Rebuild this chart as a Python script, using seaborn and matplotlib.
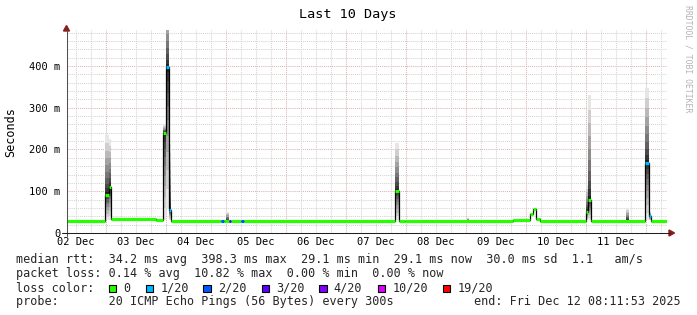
import matplotlib
matplotlib.use("Agg")
import numpy as np
import pandas as pd
import matplotlib.pyplot as plt
import matplotlib.dates as mdates
from matplotlib.patches import Rectangle, Polygon
from matplotlib.lines import Line2D
import seaborn as sns

sns.set_theme(style="white")
plt.rcParams['font.family'] = ['DejaVu Sans Mono', 'DejaVu Sans']

# ---------------- data ----------------
title = "Last 10 Days"
y_axis_label = "Seconds"
watermark = "RRDTOOL / TOBI OETIKER"
graph_start = "2025-12-02 08:11:53"
graph_end = "2025-12-12 08:11:53"

# median rtt, piecewise constant: segment start, median (ms), loss class index
seg_start = [
    "2025-12-02 08:12", "2025-12-02 22:00", "2025-12-02 23:36", "2025-12-03 01:00", "2025-12-03 01:53",
    "2025-12-03 19:48", "2025-12-03 22:55", "2025-12-04 00:00", "2025-12-04 01:00", "2025-12-04 02:00",
    "2025-12-04 22:00", "2025-12-04 23:00", "2025-12-05 01:00", "2025-12-05 02:00", "2025-12-05 06:00",
    "2025-12-05 07:00", "2025-12-07 19:43", "2025-12-07 21:05", "2025-12-07 23:36", "2025-12-09 18:48",
    "2025-12-10 01:36", "2025-12-10 02:55", "2025-12-10 03:53", "2025-12-10 05:24", "2025-12-10 23:53",
    "2025-12-11 00:55", "2025-12-11 02:00", "2025-12-11 23:43", "2025-12-12 01:12", "2025-12-12 02:00",
]
seg_median_ms = [29.6, 29.2, 92, 111, 34.5,
                 30.2, 240, 398.3, 55, 29.4,
                 29.4, 29.4, 29.2, 29.2, 29.2,
                 29.4, 101, 29.0, 29.5, 31.5,
                 45, 57, 33, 29.4, 50,
                 79, 29.4, 168, 40, 29.4]
seg_loss = [0, 0, 0, 0, 0, 0, 0, 1, 1, 0,
            2, 0, 3, 0, 2, 0, 0, 0, 0, 0,
            0, 0, 0, 0, 0, 0, 0, 1, 1, 0]

# smoke (spread of the 20 pings): column start, end, lowest, highest (ms)
smoke_start = ["2025-12-02 23:36", "2025-12-03 01:00", "2025-12-03 22:55", "2025-12-04 00:00",
               "2025-12-04 01:00", "2025-12-05 00:00", "2025-12-07 19:43", "2025-12-09 00:17",
               "2025-12-10 23:53", "2025-12-11 00:55", "2025-12-11 15:48", "2025-12-11 23:43",
               "2025-12-12 01:12"]
smoke_end = ["2025-12-03 01:00", "2025-12-03 01:53", "2025-12-04 00:00", "2025-12-04 01:00",
             "2025-12-04 02:00", "2025-12-05 01:00", "2025-12-07 21:05", "2025-12-09 01:19",
             "2025-12-11 00:55", "2025-12-11 02:00", "2025-12-11 17:00", "2025-12-12 01:12",
             "2025-12-12 02:00"]
smoke_lo_ms = [30, 30, 30, 60, 30, 29, 30, 29, 30, 30, 29, 30, 30]
smoke_hi_ms = [235, 225, 260, 560, 213, 50, 216, 36, 115, 330, 59, 348, 51]

ytick_values = [0, 100, 200, 300, 400]
ytick_labels = ["0", "100 m", "200 m", "300 m", "400 m"]

loss_labels = ["0", "1/20", "2/20", "3/20", "4/20", "10/20", "19/20"]
loss_colors = ["#26ff00", "#00b8ff", "#0059ff", "#5e00ff", "#7e00ff", "#dd00ff", "#ff0000"]

stats_rtt = "median rtt:  34.2 ms avg  398.3 ms max  29.1 ms min  29.1 ms now  30.0 ms sd  1.1   am/s"
stats_loss = "packet loss: 0.14 % avg  10.82 % max  0.00 % min  0.00 % now"
loss_title = "loss color:"
probe_text = "probe:       20 ICMP Echo Pings (56 Bytes) every 300s"
end_text = "end: Fri Dec 12 08:11:53 2025"

# ---------------- figure ----------------
W, H = 697, 315
def fx(x): return x / W
def fy(y): return 1 - y / H

fig = plt.figure(figsize=(W / 100, H / 100), dpi=100, facecolor='white')
X0, X1, Y0, Y1 = 66.5, 666.5, 233, 30
ax = fig.add_axes([fx(X0), fy(Y0), (X1 - X0) / W, (Y0 - Y1) / H])
ax.set_facecolor('white')
for s in ax.spines.values():
    s.set_visible(False)

def dn(strings):
    return mdates.date2num(pd.to_datetime(strings).to_pydatetime())

t0 = dn([graph_start])[0]
t1 = dn([graph_end])[0]
ymax = 486
ax.set_xlim(t0, t1)
ax.set_ylim(0, ymax)

# grid
minor_c, major_c = '#d4d4d4', '#ddb3b3'
dash = (0, (1, 1))
for v in np.arange(20, ymax, 20):
    ax.axhline(v, color=major_c if v % 100 == 0 else minor_c, lw=0.75, ls=dash, zorder=0.5)
for t in pd.date_range(pd.Timestamp(graph_start).ceil('6h'), pd.Timestamp(graph_end), freq='6h'):
    ax.axvline(mdates.date2num(t.to_pydatetime()), color=major_c if t.hour == 0 else minor_c,
               lw=0.75, ls=dash, zorder=0.5)

seg_x = dn(seg_start)
seg_end = np.append(seg_x[1:], t1)
seg_ms = np.array(seg_median_ms, dtype=float)

# smoke
sx0, sx1 = dn(smoke_start), dn(smoke_end)
n_b, p = 10, 1.4
for a0, a1, lo, hi in zip(sx0, sx1, smoke_lo_ms, smoke_hi_ms):
    mid = (a0 + a1) / 2
    m = seg_ms[np.searchsorted(seg_x, mid, side='right') - 1]
    for k in range(n_b):
        g = 0.12 + 0.78 * k / (n_b - 1)
        if hi > m:
            b0 = m + (hi - m) * (k / n_b) ** p
            b1 = m + (hi - m) * ((k + 1) / n_b) ** p
            ax.bar(a0, b1 - b0, width=a1 - a0, bottom=b0, align='edge',
                   color=(g, g, g), linewidth=0, zorder=1)
        if lo < m:
            b0 = m - (m - lo) * ((k + 1) / n_b) ** p
            b1 = m - (m - lo) * (k / n_b) ** p
            ax.bar(a0, b1 - b0, width=a1 - a0, bottom=b0, align='edge',
                   color=(g, g, g), linewidth=0, zorder=1)

# median line (black connectors) and loss-coloured median segments
sns.lineplot(x=np.append(seg_x, t1), y=np.append(seg_ms, seg_ms[-1]), drawstyle='steps-post',
             color='black', lw=0.9, ax=ax, estimator=None, sort=False, zorder=2)
ax.hlines(seg_ms, seg_x, seg_end, colors=[loss_colors[i] for i in seg_loss],
          lw=2.3, zorder=3, capstyle='butt')

# ticks
ax.set_yticks(ytick_values)
ax.set_yticklabels(ytick_labels)
ax.xaxis.set_major_locator(mdates.HourLocator(byhour=[12]))
ax.xaxis.set_major_formatter(mdates.DateFormatter('%d %b'))
ax.tick_params(axis='both', length=0, labelsize=7.5, colors='black')
ax.tick_params(axis='y', pad=4.3)
ax.tick_params(axis='x', pad=3.0)
ax.set_xlabel('')
ax.set_ylabel('')
ax.grid(False)

# axes lines and arrows
fig.add_artist(Line2D([fx(66.5), fx(66.5)], [fy(236), fy(30)], color='#505050', lw=0.75))
fig.add_artist(Line2D([fx(62), fx(670)], [fy(233), fy(233)], color='#202020', lw=0.75))
fig.add_artist(Polygon([[fx(63.5), fy(31)], [fx(69.5), fy(31)], [fx(66.5), fy(25.5)]],
                       closed=True, color='#8b1c1c', transform=fig.transFigure))
fig.add_artist(Polygon([[fx(669), fy(230)], [fx(669), fy(236)], [fx(674.5), fy(233)]],
                       closed=True, color='#8b1c1c', transform=fig.transFigure))

# texts
fig.text(fx(348), fy(18.3), title, ha='center', va='baseline', fontsize=9.7, color='black')
fig.text(fx(10.7), fy(132), y_axis_label, rotation=90, ha='center', va='center',
         fontsize=8.5, color='black')
fig.text(fx(688), fy(59), watermark, rotation=270, ha='center', va='center',
         fontsize=5.9, color='#b4b4b4')

fs = 8.5
fig.text(fx(16), fy(263.5), stats_rtt, ha='left', va='baseline', fontsize=fs)
fig.text(fx(16), fy(277.5), stats_loss, ha='left', va='baseline', fontsize=fs)
fig.text(fx(16), fy(291.5), loss_title, ha='left', va='baseline', fontsize=fs)
fig.text(fx(16), fy(305.3), probe_text, ha='left', va='baseline', fontsize=fs)
fig.text(fx(681), fy(305.3), end_text, ha='right', va='baseline', fontsize=fs)

box_x = [108.7, 145.7, 203.3, 261.7, 319.0, 377.7, 442.7]
for bx, lab, col in zip(box_x, loss_labels, loss_colors):
    fig.add_artist(Rectangle((fx(bx), fy(292.3)), 7.5 / W, 7.5 / H, facecolor=col,
                             edgecolor='black', lw=0.8, transform=fig.transFigure))
    fig.text(fx(bx + 14.8), fy(291.5), lab, ha='left', va='baseline', fontsize=fs)

fig.savefig("out.png", dpi=100, facecolor='white')
